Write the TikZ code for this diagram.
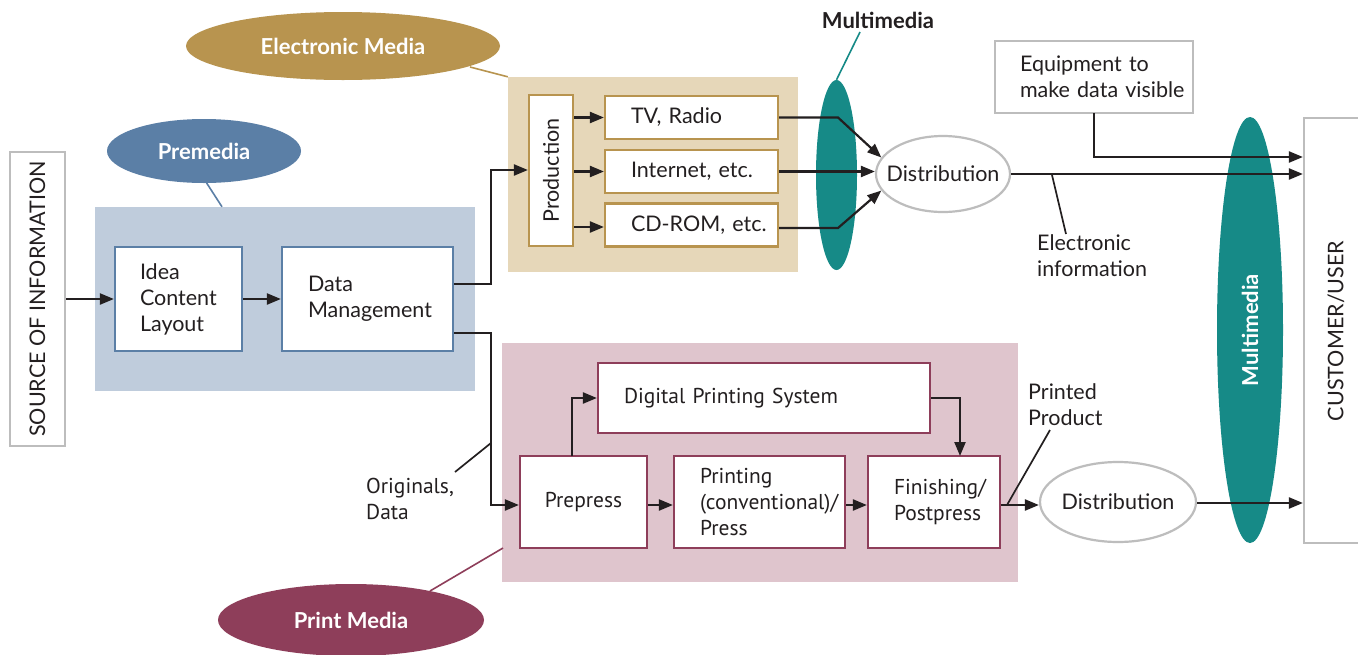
\documentclass[tikz,border=0pt]{standalone}
\usepackage{fontspec}
\setmainfont{Lato}
\newfontfamily\narrowfont{PT Sans}
\usetikzlibrary{arrows.meta,shapes.geometric,calc}
\definecolor{premedia}{HTML}{5B7FA6}
\definecolor{premediabg}{HTML}{BFCCDC}
\definecolor{elec}{HTML}{B8944F}
\definecolor{elecbg}{HTML}{E6D7B9}
\definecolor{printc}{HTML}{8E3E5A}
\definecolor{printbg}{HTML}{DFC5CD}
\definecolor{mmteal}{HTML}{168A87}
\definecolor{lgray}{HTML}{BDBDBD}
\definecolor{ink}{HTML}{231F20}
\tikzset{
  box/.style={draw=#1, fill=white, line width=2.2pt, inner sep=0pt, align=left, text=ink},
  graybox/.style={box=lgray},
  arr/.style={-{Triangle[length=14pt,width=11pt]}, line width=2.2pt, draw=ink},
  plain/.style={line width=1.7pt, draw=ink},
  tagfont/.style={font=\fontsize{22}{26}\selectfont\bfseries},
  tag/.style={ellipse, fill=#1, draw=none, text=white, inner sep=0pt, tagfont},
  zone/.style={fill=#1, draw=none, inner sep=0pt},
  dist/.style={ellipse, draw=lgray, fill=white, line width=2.2pt, inner sep=0pt,
               label={[text=ink, inner sep=0pt]center:#1}},
  lbl/.style={align=left, inner sep=0pt, text=ink, anchor=north west},
  capfont/.style={font=\fontsize{21.5}{25}\selectfont}
}
\begin{document}
\begin{tikzpicture}[x=1pt,y=-1pt, font=\fontsize{21.5}{26}\selectfont]
\useasboundingbox[fill=white] (0,0) rectangle (1358,654);

% coloured zones
\node[zone=premediabg, minimum width=380pt, minimum height=184pt] (prezone) at (285,299) {};
\node[zone=elecbg, minimum width=290pt, minimum height=195pt] (eleczone) at (653,174.5) {};
\node[zone=printbg, minimum width=516pt, minimum height=239pt] (printzone) at (760,462.5) {};

% multimedia ellipses
\node[ellipse, fill=mmteal, inner sep=0pt, minimum width=41pt, minimum height=190pt] (mmsmall) at (836.5,175) {};
\node[ellipse, fill=mmteal, inner sep=0pt, minimum width=66pt, minimum height=426pt, text=white,
      tagfont] (mmbig) at (1250,330) {\rotatebox{90}{Multimedia}};
\node[inner sep=0pt, text=ink, tagfont] (mmlabel) at (878,20) {Multimedia};
\draw[mmteal, line width=1.6pt] (mmsmall.north) -- (860,32);

% tags
\node[tag=premedia, minimum width=194pt, minimum height=64pt] (pretag) at (204,151) {Premedia};
\node[tag=elec, minimum width=314pt, minimum height=68pt] (electag) at (343,46) {Electronic Media};
\node[tag=printc, minimum width=266pt, minimum height=72pt] (printtag) at (351,620) {Print Media};
\draw[premedia, line width=1.6pt] (206,182) -- (prezone.north west -| 222,0);
\draw[elec, line width=1.6pt] (470,67) -- (eleczone.north west);
\draw[printc, line width=1.6pt] (430,591) -- (503,548);

% source and customer
\node[graybox, rotate=90, minimum width=294pt, minimum height=55pt, align=center, capfont] (source) at (37.5,299) {SOURCE OF INFORMATION};
\node[graybox, minimum width=60pt, minimum height=425pt] (cust) at (1334,330.5) {};
\node[inner sep=0pt, rotate=90, text=ink, capfont] (custtext) at (1336,331) {CUSTOMER/USER};

% premedia boxes
\node[box=premedia, minimum width=127pt, minimum height=104pt, text width=77pt] (idea) at (178.5,299) {Idea\\Content\\Layout};
\node[box=premedia, minimum width=171pt, minimum height=104pt, text width=119pt] (data) at (367.5,299) {Data\\\mbox{Management}};

% electronic media boxes
\node[box=elec, rotate=90, minimum width=151pt, minimum height=44pt, align=center] (prod) at (551,170.5) {Production};
\node[box=elec, minimum width=173pt, minimum height=43pt, text width=121pt] (tv) at (691.5,117.5) {\mbox{TV, Radio}};
\node[box=elec, minimum width=173pt, minimum height=43pt, text width=121pt] (inet) at (691.5,171.5) {\mbox{Internet, etc.}};
\node[box=elec, minimum width=173pt, minimum height=43pt, text width=121pt] (cd) at (691.5,225) {\mbox{CD-ROM, etc.}};

% electronic distribution
\node[dist=Distribution, minimum width=134pt, minimum height=76pt] (edist) at (943,174) {};
\node[graybox, minimum width=198pt, minimum height=72pt, text width=148pt] (equip) at (1094,77) {\mbox{Equipment to}\\\mbox{make data visible}};
\node[lbl] (einfo) at (1037,234) {Electronic\\information};

% print media boxes
\begingroup
\narrowfont
\node[box=printc, minimum width=332pt, minimum height=70pt, text width=280pt, inner xsep=26pt] (dps) at (764,398) {Digital Printing System};
\node[box=printc, minimum width=127pt, minimum height=92pt, align=center] (prepress) at (583.5,502) {Prepress};
\node[box=printc, minimum width=171pt, minimum height=92pt, text width=119pt] (press) at (759.5,502) {Printing\\\mbox{(conventional)/}\\Press};
\node[box=printc, minimum width=132pt, minimum height=92pt, text width=80pt] (finish) at (934,502) {\mbox{Finishing/}\\\mbox{Postpress}};
\node[lbl] (orig) at (366,478) {Originals,\\Data};
\endgroup
\node[lbl] (printed) at (1028,383) {Printed\\Product};
\node[dist=Distribution, minimum width=156pt, minimum height=80pt] (pdist) at (1118,502) {};

% connectors: premedia
\draw[arr] (source.south |- idea.west) -- (idea.west);
\draw[arr] (idea) -- (data);
\draw[arr] ($(data.east)+(0,-15)$) -| (491,170) -- (prod.north |- 0,170);
\draw[arr] ($(data.east)+(0,34)$) -| (491,505) -- (prepress.west |- 0,505);
\draw[plain] (455,472) -- (491,443);

% connectors: electronic media
\draw[arr] (prod.south |- tv.west) -- (tv.west);
\draw[arr] (prod.south |- inet.west) -- (inet.west);
\draw[arr] (prod.south |- 0,227) -- (cd.west |- 0,227);
\draw[arr] (tv.east) -- (838,117.5) -- (edist.165);
\draw[arr] (inet.east) -- (edist.west |- inet.east);
\draw[arr] (cd.east |- 0,228) -- (838,228) -- (edist.195);
\draw[arr] (equip.south |- 0,113) |- (cust.west |- 0,157);
\draw[arr] (edist.east) -- (cust.west |- edist.east);
\draw[plain] (1052,175) -- (1066,234);

% connectors: print media
\draw[arr] (prepress.east |- 0,505) -- (press.west |- 0,505);
\draw[arr] (press.east |- 0,505) -- (finish.west |- 0,505);
\draw[arr] (572,456) |- (dps.west);
\draw[arr] (dps.east) -| (960,456);
\draw[arr] (finish.east |- 0,505) -- (pdist.west |- 0,505);
\draw[arr] (pdist.east |- 0,503) -- (cust.west |- 0,503);
\draw[plain] (1050,430) -- (1007,505);
\end{tikzpicture}
\end{document}
